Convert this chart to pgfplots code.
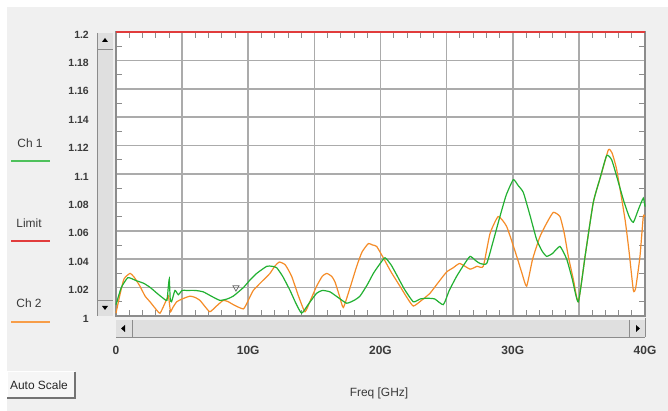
\documentclass[border=0pt]{standalone}
\usepackage{pgfplots}
\pgfplotsset{compat=1.18}
\usepackage{fontspec}
\setmainfont{Liberation Sans}

\definecolor{bg}{HTML}{F0F0F0}
\definecolor{gridc}{HTML}{ABABAB}
\definecolor{frame}{HTML}{8C8C8C}
\definecolor{lab}{HTML}{3A3A3A}
\definecolor{chone}{RGB}{34,177,50}
\definecolor{chtwo}{RGB}{245,140,40}
\definecolor{limit}{RGB}{225,60,60}

\begin{document}
\begin{tikzpicture}
% window background
\fill[white] (0,0) rectangle (668bp,411bp);
\fill[bg] (7bp,0) rectangle (668bp,404bp);
\useasboundingbox (0,0) rectangle (668bp,411bp);

\begin{axis}[
  at={(116bp,95bp)}, anchor=south west,
  width=529bp, height=284bp, scale only axis,
  xmin=0, xmax=40, ymin=1, ymax=1.2,
  clip=false,
  axis background/.style={fill=white},
  axis line style={draw=frame, line width=1.6bp},
  xtick={0,5,10,15,20,25,30,35,40},
  xticklabels={0,,10G,,20G,,30G,,40G},
  minor x tick num=4,
  ytick={1,1.02,1.04,1.06,1.08,1.1,1.12,1.14,1.16,1.18,1.2},
  yticklabels={1,1.02,1.04,1.06,1.08,1.1,1.12,1.14,1.16,1.18,1.2},
  minor ytick={1.01,1.03,1.05,1.07,1.09,1.11,1.13,1.15,1.17,1.19},
  xmajorgrids, ymajorgrids,
  grid style={draw=gridc, line width=1.6bp},
  tick align=inside,
  major tick length=0pt,
  minor tick length=6bp,
  minor tick style={draw=frame, line width=0.8bp},
  xtick pos=both, ytick pos=both,
  xticklabel pos=bottom, yticklabel pos=left,
  xticklabel style={font=\fontsize{12}{13}\selectfont\bfseries, text=lab,
    anchor=center, inner sep=0pt, yshift=-34bp},
  yticklabel style={font=\fontsize{10.5}{11}\selectfont\bfseries, text=lab,
    anchor=east, inner sep=0pt, xshift=-27bp, yshift=-2.5bp},
]

% Limit
\addplot[limit, line width=2.2bp] coordinates {(0,1.2)(40,1.2)};

% Ch 2
\addplot[chtwo, line width=1.2bp, smooth, tension=0.3] coordinates {
(0,1.002)(0.3,1.015)(0.6,1.026)(1.06,1.030)(1.4,1.027)(1.81,1.021)(2.2,1.014)
(2.57,1.010)(3.0,1.005)(3.33,1.002)(3.7,1.009)(3.96,1.014)(4.05,1.008)(4.13,1.003)
(4.3,1.006)(4.59,1.010)(5.0,1.012)(5.6,1.014)(6.0,1.013)(6.35,1.011)(6.7,1.007)
(7.1,1.003)(7.6,1.007)(8.11,1.011)(8.5,1.010)(8.87,1.008)(9.63,1.005)(10.0,1.011)
(10.38,1.018)(11.0,1.024)(11.64,1.030)(12.0,1.035)(12.35,1.038)(12.8,1.036)
(13.28,1.028)(13.8,1.014)(14.29,1.003)(14.7,1.011)(15.17,1.021)(15.6,1.028)
(15.93,1.030)(16.3,1.028)(16.56,1.024)(16.9,1.014)(17.19,1.006)(17.7,1.020)
(18.2,1.035)(18.6,1.045)(19.08,1.051)(19.4,1.050)(19.71,1.049)(20.21,1.041)
(20.8,1.031)(21.47,1.021)(22.0,1.013)(22.48,1.007)(23.1,1.011)(23.74,1.016)
(24.4,1.024)(25.0,1.031)(25.5,1.034)(26.0,1.037)(26.77,1.033)(27.3,1.035)
(27.77,1.035)(28.28,1.058)(28.9,1.070)(29.54,1.063)(30.3,1.042)(30.7,1.030)
(31.05,1.021)(31.5,1.040)(32.06,1.056)(32.6,1.066)(33.07,1.073)(33.57,1.070)
(33.9,1.058)(34.2,1.042)(34.6,1.025)(34.96,1.010)(35.5,1.044)(36.09,1.080)
(36.7,1.100)(37.23,1.117)(37.5,1.115)(37.86,1.103)(38.49,1.068)(38.8,1.045)
(39.12,1.018)(39.3,1.020)(39.62,1.042)(39.87,1.070)(40,1.070)
};

% Ch 1
\addplot[chone, line width=1.2bp, smooth, tension=0.3] coordinates {
(0,1.008)(0.4,1.020)(0.9,1.027)(1.5,1.025)(2.1,1.023)(2.6,1.020)(3.1,1.016)
(3.5,1.013)(3.85,1.011)(3.95,1.020)(4.03,1.026)(4.1,1.012)(4.2,1.010)(4.46,1.018)
(4.71,1.015)(5.0,1.018)(5.34,1.018)(6.0,1.018)(6.6,1.017)(7.2,1.014)(7.86,1.011)
(8.4,1.012)(8.87,1.014)(9.63,1.020)(10.1,1.025)(10.64,1.030)(11.4,1.035)
(11.8,1.035)(12.15,1.034)(12.6,1.028)(13.16,1.018)(13.6,1.009)(14.04,1.002)
(14.6,1.009)(15.17,1.016)(15.6,1.018)(16.18,1.017)(16.8,1.013)(17.44,1.009)
(18.0,1.011)(18.45,1.014)(19.0,1.022)(19.46,1.030)(19.9,1.036)(20.34,1.041)
(20.8,1.036)(21.22,1.029)(21.8,1.019)(22.48,1.010)(23.0,1.012)(23.5,1.0125)
(24.1,1.012)(24.75,1.008)(25.2,1.018)(25.76,1.028)(26.3,1.036)(26.77,1.042)
(27.2,1.039)(27.52,1.037)(28.03,1.037)(28.5,1.052)(29.03,1.070)(29.5,1.085)
(30.04,1.096)(30.4,1.092)(30.8,1.087)(31.3,1.071)(31.8,1.054)(32.2,1.046)
(32.56,1.042)(33.0,1.044)(33.57,1.049)(34.08,1.040)(34.5,1.026)(34.96,1.010)
(35.5,1.044)(36.09,1.080)(36.6,1.097)(37.1,1.113)(37.48,1.110)(37.9,1.097)
(38.36,1.082)(38.8,1.070)(39.12,1.066)(39.5,1.075)(39.87,1.083)(40,1.077)
};

% marker
\addplot[only marks, mark=triangle, mark size=3.5bp,
  mark options={rotate=180, draw=black!60, fill=white, line width=0.7bp}]
  coordinates {(9.07,1.020)};
\end{axis}

% window chrome in pixel coordinates (y downwards)
\begin{scope}[shift={(0bp,411bp)}, x=1bp, y=-1bp]
  % vertical scroll bar
  \fill[bg!85!gray] (97,33) rectangle (113,316);
  \draw[frame, line width=0.8bp] (97,33) -- (97,316);
  \draw[frame, line width=0.8bp] (97,49) -- (113,49);
  \draw[frame, line width=0.8bp] (97,300) -- (113,300);
  \fill[black] (102,42) -- (108,42) -- (105,38) -- cycle;
  \fill[black] (102,306) -- (108,306) -- (105,310) -- cycle;
  % horizontal scroll bar
  \fill[bg!85!gray] (116,320) rectangle (645,337);
  \draw[frame, line width=0.8bp] (116,337) -- (645,337);
  \draw[frame, line width=0.8bp] (132,320) -- (132,337);
  \draw[frame, line width=0.8bp] (629,320) -- (629,337);
  \draw[frame, line width=0.8bp] (645,318) -- (645,337);
  \fill[black] (125,325) -- (125,332) -- (121,328.5) -- cycle;
  \fill[black] (636,325) -- (636,332) -- (640,328.5) -- cycle;
  % legend
  \node[font=\fontsize{12}{13}\selectfont, text=lab] at (30,143) {Ch 1};
  \draw[chone!80!white, line width=1.5bp] (11,161) -- (50,161);
  \node[font=\fontsize{12}{13}\selectfont, text=lab] at (29,223) {Limit};
  \draw[limit, line width=1.5bp] (11,241) -- (50,241);
  \node[font=\fontsize{12}{13}\selectfont, text=lab] at (29,303) {Ch 2};
  \draw[chtwo!85!white, line width=1.5bp] (11,322) -- (50,322);
  % axis title
  \node[font=\fontsize{12}{13}\selectfont, text=lab] at (379,393) {Freq [GHz]};
  % Auto Scale button
  \fill[bg!60!white] (7,372) rectangle (75,398);
  \draw[white, line width=1bp] (7,398) -- (7,372) -- (75,372);
  \draw[black!55, line width=1.2bp] (7,398) -- (75,398) -- (75,372);
  \node[font=\fontsize{12}{13}\selectfont, text=black!85] at (39,385) {Auto Scale};
\end{scope}
\end{tikzpicture}
\end{document}
